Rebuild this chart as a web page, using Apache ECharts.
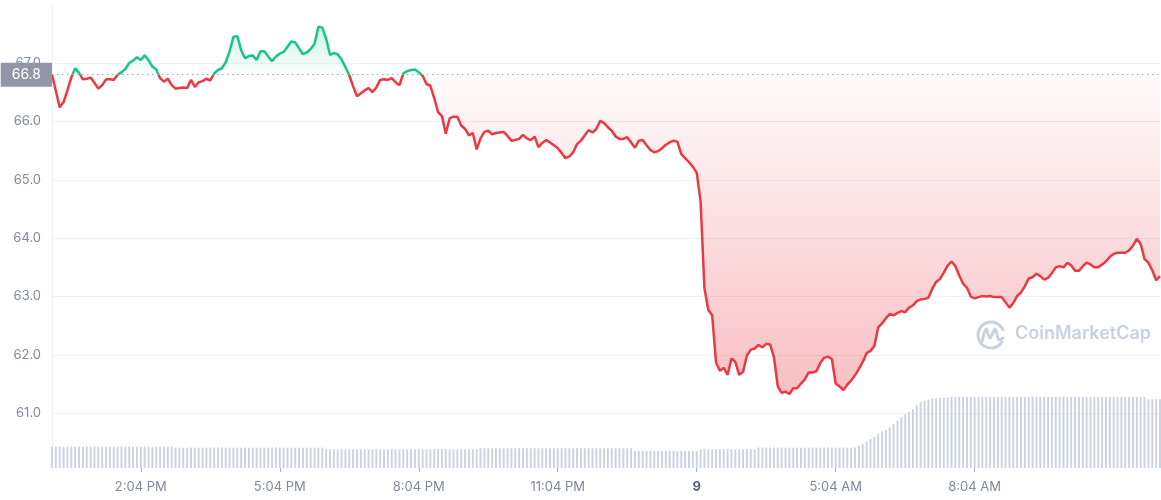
<!DOCTYPE html>
<html>
<head>
<meta charset="utf-8">
<script src="https://cdn.jsdelivr.net/npm/echarts@6/dist/echarts.min.js"></script>
<style>
  html, body { margin: 0; padding: 0; background: #fff; }
  #main { width: 1161px; height: 500px; }
</style>
</head>
<body>
<div id="main"></div>
<script>
// opening price, the line turns green above it and red below it
const openPrice = 66.8;

// 5 minute prices
const prices = [
  66.80,66.52,66.24,66.33,66.53,66.75,66.91,66.83,66.72,66.73,
  66.75,66.66,66.56,66.62,66.72,66.72,66.71,66.80,66.84,66.90,
  67.00,67.04,67.10,67.05,67.13,67.05,66.94,66.89,66.74,66.68,
  66.73,66.62,66.56,66.57,66.58,66.57,66.71,66.59,66.67,66.69,
  66.73,66.70,66.82,66.88,66.91,67.01,67.20,67.45,67.46,67.22,
  67.08,67.12,67.13,67.05,67.20,67.20,67.11,67.03,67.11,67.16,
  67.19,67.28,67.37,67.35,67.25,67.15,67.18,67.24,67.33,67.62,
  67.61,67.42,67.14,67.17,67.15,67.06,66.93,66.79,66.60,66.43,
  66.48,66.53,66.57,66.50,66.58,66.71,66.72,66.71,66.74,66.67,
  66.62,66.82,66.86,66.88,66.89,66.84,66.78,66.64,66.61,66.40,
  66.16,66.09,65.79,66.05,66.08,66.08,65.93,65.87,65.76,65.80,
  65.52,65.71,65.82,65.84,65.78,65.80,65.81,65.82,65.75,65.67,
  65.68,65.70,65.77,65.71,65.68,65.74,65.56,65.63,65.68,65.64,
  65.59,65.54,65.46,65.37,65.40,65.47,65.61,65.67,65.76,65.85,
  65.81,65.87,66.01,65.97,65.90,65.84,65.74,65.70,65.70,65.73,
  65.64,65.55,65.67,65.68,65.59,65.51,65.47,65.49,65.54,65.60,
  65.64,65.67,65.65,65.44,65.37,65.30,65.22,65.12,64.63,63.14,
  62.77,62.68,61.87,61.73,61.78,61.66,61.94,61.88,61.66,61.71,
  61.99,62.09,62.11,62.17,62.13,62.19,62.18,61.96,61.46,61.35,
  61.37,61.33,61.43,61.43,61.51,61.58,61.70,61.70,61.72,61.86,
  61.95,61.97,61.93,61.51,61.46,61.40,61.49,61.56,61.65,61.76,
  61.88,62.03,62.07,62.15,62.47,62.54,62.63,62.70,62.68,62.72,
  62.75,62.73,62.81,62.85,62.92,62.95,62.96,62.98,63.13,63.25,
  63.30,63.41,63.53,63.60,63.52,63.36,63.22,63.15,63.00,62.97,
  62.99,63.01,63.00,63.01,62.99,62.99,62.99,62.90,62.81,62.89,
  63.01,63.07,63.18,63.31,63.33,63.39,63.35,63.29,63.32,63.40,
  63.50,63.52,63.50,63.58,63.53,63.44,63.44,63.52,63.58,63.55,
  63.50,63.50,63.55,63.60,63.68,63.73,63.75,63.75,63.75,63.79,
  63.87,63.99,63.90,63.64,63.58,63.45,63.28,63.35
];

// volume, relative bar heights
const volumes = [
  21.3,21.3,21.3,21.3,21.3,21.3,21.3,21.3,21.3,21.3,21.3,21.3,21.3,21.3,21.3,21.3,
  21.3,21.3,21.3,21.3,21.3,21.3,21.3,21.3,21.3,21.3,21.3,21.3,21.3,21.3,21.3,21.3,
  20.3,20.3,20.3,20.3,20.3,20.3,20.3,20.3,20.3,20.3,20.3,20.3,20.3,20.3,20.3,20.3,20.3,20.3,20.3,20.3,
  20.3,20.3,20.3,20.3,20.3,20.3,20.3,20.3,20.3,20.3,20.3,20.3,20.3,20.3,20.3,20.3,20.3,20.3,20.3,
  18.7,18.7,18.7,18.7,18.7,18.7,18.7,18.7,18.7,18.7,18.7,18.7,18.7,18.7,18.7,18.7,18.7,18.7,18.7,18.7,
  18.7,18.7,18.7,18.7,18.7,18.7,18.7,18.7,18.7,18.7,18.7,18.7,18.7,18.7,18.7,18.7,18.7,18.7,18.7,18.7,
  19.7,19.7,19.7,19.7,19.7,19.7,19.7,19.7,19.7,19.7,19.7,19.7,19.7,19.7,19.7,19.7,19.7,19.7,19.7,19.7,
  19.7,19.7,19.7,19.7,19.7,19.7,19.7,19.7,19.7,19.7,19.7,19.7,19.7,19.7,19.7,19.7,19.7,19.7,19.7,19.7,
  17.0,17.0,17.0,17.0,17.0,17.0,17.0,17.0,17.0,17.0,17.0,17.0,17.0,17.0,17.0,17.0,17.0,
  18.7,18.7,18.7,18.7,18.7,18.7,18.7,18.7,18.7,18.7,18.7,18.7,18.7,18.7,18.7,
  20.3,20.3,20.3,20.3,20.3,20.3,20.3,20.3,20.3,20.3,20.3,20.3,20.3,
  20.3,20.3,20.3,20.3,20.3,20.3,20.3,20.3,20.3,20.3,20.3,20.3,20.3,
  22.0,24.0,26.3,29.0,31.3,34.0,36.5,38.0,40.5,44.0,47.0,50.5,
  53.5,55.7,58.7,62.5,65.5,67.0,68.0,69.3,69.5,69.7,70.0,70.3,
  70.7,70.7,70.7,70.7,70.7,70.7,70.7,70.7,70.7,70.7,70.7,70.7,70.7,70.7,70.7,70.7,70.7,
  70.7,70.7,70.7,70.7,70.7,70.7,70.7,70.7,70.7,70.7,70.7,70.7,70.7,70.7,70.7,70.7,70.7,
  70.7,70.7,70.7,70.7,70.7,70.7,70.7,70.7,70.7,70.7,70.7,70.7,70.7,70.7,70.7,70.7,70.7,
  68.5,68.5,68.5,68.5
];

// y tick labels and the x tick times that get a label
const yTicks = [61, 62, 63, 64, 65, 66, 67];
const xTickTimes = ['2:04 PM', '5:04 PM', '8:04 PM', '11:04 PM', '2:04 AM', '5:04 AM', '8:04 AM'];
const xTickLabels = ['2:04 PM', '5:04 PM', '8:04 PM', '11:04 PM', '9', '5:04 AM', '8:04 AM'];

// time of each 5 minute point, first one at 12:09 PM
const startMinute = 12 * 60 + 9;
const times = prices.map(function (p, i) {
  const t = (startMinute + i * 5) % (24 * 60);
  const h = Math.floor(t / 60), m = t % 60;
  const h12 = h % 12 === 0 ? 12 : h % 12;
  return h12 + ':' + (m < 10 ? '0' : '') + m + (h < 12 ? ' AM' : ' PM');
});

const green = '#16c784';
const red = '#ea3943';
const hi = Math.max.apply(null, prices);
const lo = Math.min.apply(null, prices);
const openStop = (hi - openPrice) / (hi - lo);

const chart = echarts.init(document.getElementById('main'));

function isTick(index, value) {
  return xTickTimes.indexOf(value) >= 0;
}

chart.setOption({
  animation: false,
  textStyle: { fontFamily: 'Inter' },
  grid: [
    { left: 52, right: 1, top: 4.6, bottom: 28.3 },
    { left: 52, right: 1, bottom: 32, height: 71 }
  ],
  xAxis: [
    { gridIndex: 0, type: 'category', data: times, boundaryGap: false, show: false },
    {
      gridIndex: 1, type: 'category', data: times, boundaryGap: false,
      axisLine: { show: false },
      axisTick: { show: true, interval: isTick, length: 4, lineStyle: { color: '#a6b0c3' } },
      axisLabel: {
        interval: isTick,
        margin: 13,
        fontSize: 13,
        color: '#808a9d',
        formatter: function (v) {
          const lab = xTickLabels[xTickTimes.indexOf(v)];
          return lab === '9' ? '{day|9}' : lab;
        },
        rich: { day: { fontSize: 13, fontWeight: 'bold', color: '#58667e' } }
      }
    }
  ],
  yAxis: [
    {
      gridIndex: 0, type: 'value', min: 60, max: 68, interval: 1,
      axisLine: { show: true, lineStyle: { color: '#eff2f5' } },
      axisTick: { show: false },
      axisLabel: {
        margin: 11, fontSize: 13, color: '#808a9d',
        formatter: function (v) { return yTicks.indexOf(v) >= 0 ? v.toFixed(1) : ''; }
      },
      splitLine: { showMinLine: false, showMaxLine: false, lineStyle: { color: '#eff2f5' } }
    },
    { gridIndex: 1, type: 'value', min: 0, max: 'dataMax', show: false }
  ],
  visualMap: {
    show: false, type: 'piecewise', seriesIndex: 0, dimension: 1,
    pieces: [
      { gt: 0, lte: openPrice, color: red },
      { gt: openPrice, lte: 1000, color: green }
    ]
  },
  series: [
    {
      type: 'line',
      xAxisIndex: 0, yAxisIndex: 0,
      data: prices,
      showSymbol: false,
      z: 3,
      lineStyle: { width: 2.5 },
      areaStyle: {
        origin: openPrice,
        opacity: 1,
        color: new echarts.graphic.LinearGradient(0, 0, 0, 1, [
          { offset: 0, color: 'rgba(22,199,132,0.2)' },
          { offset: openStop, color: 'rgba(22,199,132,0.02)' },
          { offset: openStop, color: 'rgba(234,57,67,0.02)' },
          { offset: 1, color: 'rgba(234,57,67,0.32)' }
        ])
      },
      markLine: {
        silent: true,
        symbol: ['none', 'none'],
        lineStyle: { type: [1.5, 3.5], color: '#a1a7bb', width: 1 },
        label: {
          show: true, position: 'start', distance: 0,
          formatter: openPrice.toFixed(1),
          color: '#fff', fontSize: 14,
          backgroundColor: '#8f97a8',
          padding: [5, 11, 5, 11]
        },
        data: [{ yAxis: openPrice }]
      }
    },
    {
      type: 'bar',
      xAxisIndex: 1, yAxisIndex: 1,
      data: volumes,
      barWidth: '50%',
      silent: true,
      itemStyle: { color: '#cbd3e3' }
    }
  ],
  graphic: [
    {
      type: 'arc',
      shape: { cx: 991, cy: 335, r: 13, startAngle: 0.45, endAngle: 5.95, clockwise: true },
      style: { stroke: '#c9d1df', lineWidth: 3, fill: 'none' }
    },
    {
      type: 'polyline',
      shape: { points: [[982, 342], [986, 329], [990, 338], [995, 329], [999, 340], [1004, 337]], smooth: 0.3 },
      style: { stroke: '#c9d1df', lineWidth: 3, fill: 'none' }
    },
    {
      type: 'text', left: 1015, top: 325,
      style: { text: 'CoinMarketCap', fill: '#c9d1df', font: '600 18px Inter' }
    }
  ]
});
</script>
</body>
</html>
